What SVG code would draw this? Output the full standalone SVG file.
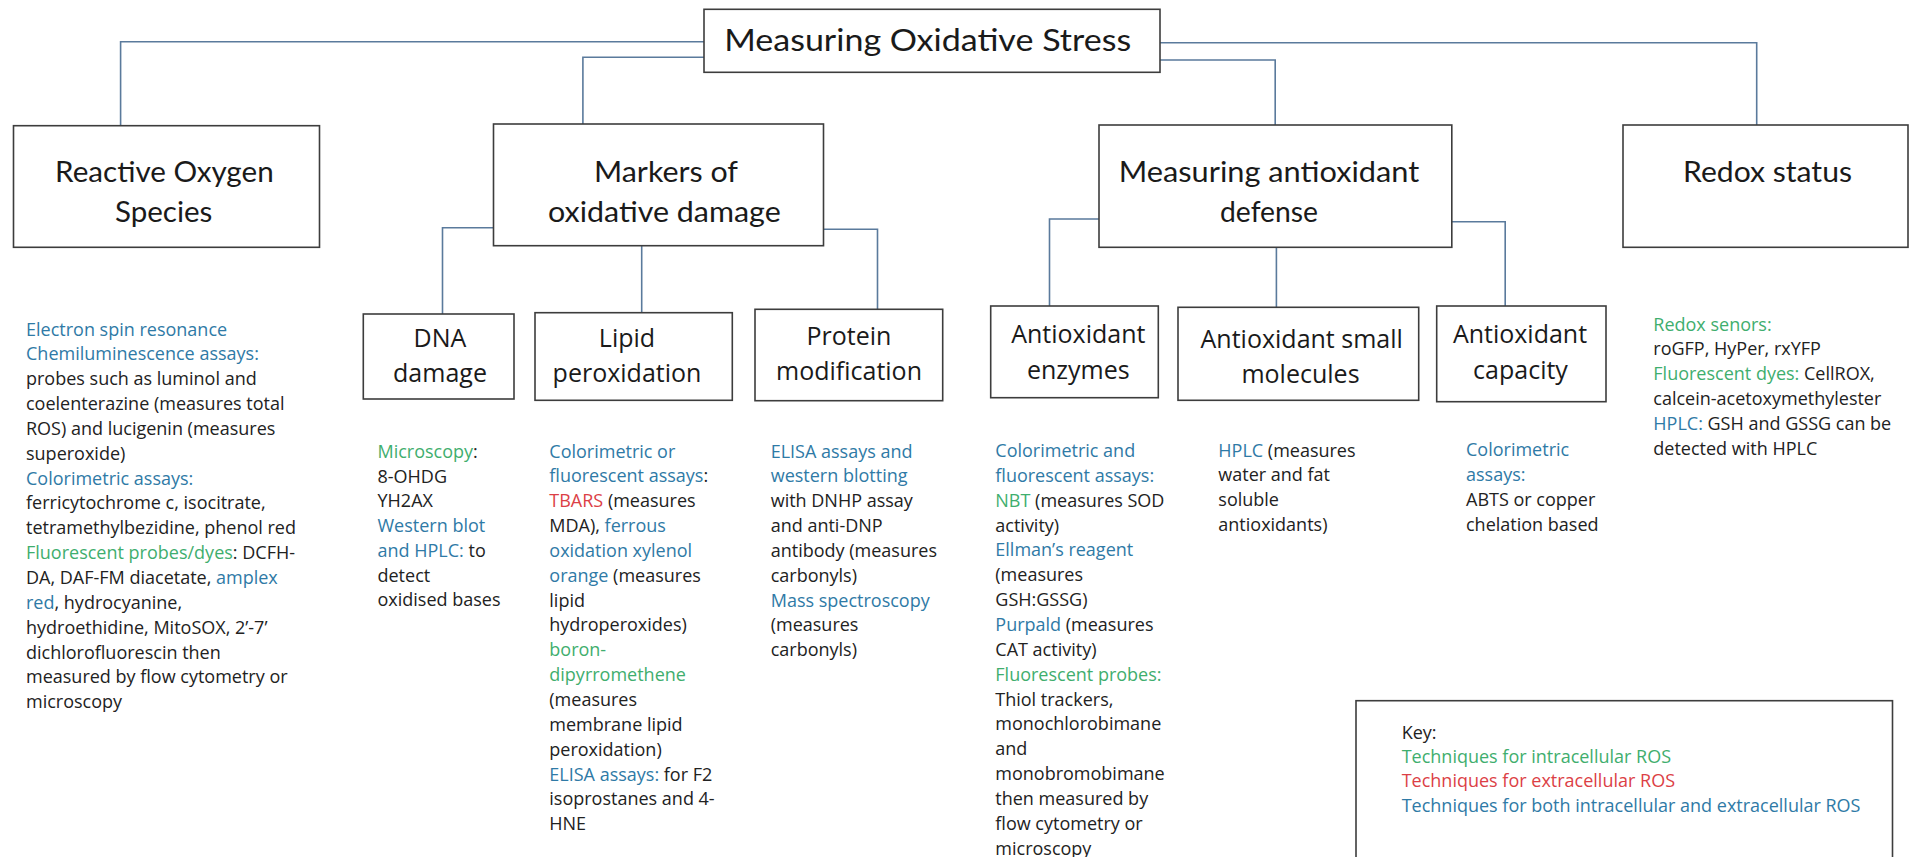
<svg xmlns="http://www.w3.org/2000/svg" width="1912" height="857" viewBox="0 0 1912 857">
<style>
.box{fill:#fff;stroke:#3d3d3d;stroke-width:1.6}
.conn{fill:none;stroke:#5a7a9c;stroke-width:1.6}
.h1{font-family:Lato,"Open Sans",sans-serif;font-size:30px;fill:#1a1a1a;text-anchor:middle}
.h2{font-family:Lato,"Open Sans",sans-serif;font-size:28px;fill:#1a1a1a;text-anchor:middle}
.h3{font-family:"Open Sans",sans-serif;font-size:25px;fill:#1a1a1a;text-anchor:middle}
.t{font-family:"Open Sans",sans-serif;font-size:18px;fill:#222}
.b{fill:#2f7aa6}
.g{fill:#3fae6e}
.r{fill:#dc3f46}
</style>
<rect width="1912" height="857" fill="#fff"/>
<g id="connectors">
<path class="conn" d="M704,41.7 H120.6 V125.7"/>
<path class="conn" d="M704,57.3 H582.9 V124"/>
<path class="conn" d="M1160,42.7 H1756.7 V125"/>
<path class="conn" d="M1160,60 H1275.2 V125"/>
<path class="conn" d="M493.5,227.7 H442.5 V314"/>
<path class="conn" d="M641.7,245.7 V312.7"/>
<path class="conn" d="M823.5,229.3 H877.5 V309.3"/>
<path class="conn" d="M1099,219 H1049.5 V306"/>
<path class="conn" d="M1276.4,247.3 V307.3"/>
<path class="conn" d="M1451.8,221.7 H1505.2 V306"/>
</g>
<g id="root">
<rect class="box" x="704" y="9.3" width="456" height="63"/>
<text class="h1" x="927.7" y="51" textLength="407" lengthAdjust="spacingAndGlyphs">Measuring Oxidative Stress</text>
</g>
<g id="ros">
<rect class="box" x="13.5" y="125.7" width="306" height="121.6"/>
<text class="h2" x="164.4" y="181.7" textLength="218.6" lengthAdjust="spacingAndGlyphs">Reactive Oxygen</text>
<text class="h2" x="163.7" y="221.7" textLength="97.4" lengthAdjust="spacingAndGlyphs">Species</text>
</g>
<g id="markers">
<rect class="box" x="493.5" y="124" width="330" height="121.7"/>
<text class="h2" x="666" y="181.7" textLength="144" lengthAdjust="spacingAndGlyphs">Markers of</text>
<text class="h2" x="664.4" y="221.7" textLength="232.7" lengthAdjust="spacingAndGlyphs">oxidative damage</text>
</g>
<g id="defense">
<rect class="box" x="1099" y="125" width="352.8" height="122.3"/>
<text class="h2" x="1269" y="181.7" textLength="300.6" lengthAdjust="spacingAndGlyphs">Measuring antioxidant</text>
<text class="h2" x="1269" y="221.7" textLength="98" lengthAdjust="spacingAndGlyphs">defense</text>
</g>
<g id="redox">
<rect class="box" x="1623" y="125" width="285" height="122.3"/>
<text class="h2" x="1767.5" y="182" textLength="169" lengthAdjust="spacingAndGlyphs">Redox status</text>
</g>
<g id="dna">
<rect class="box" x="363.3" y="314" width="150.7" height="85"/>
<text class="h3" x="440" y="346.7">DNA</text>
<text class="h3" x="440" y="381.7">damage</text>
</g>
<g id="lipid">
<rect class="box" x="535" y="312.7" width="197.3" height="87.6"/>
<text class="h3" x="627" y="346.7">Lipid</text>
<text class="h3" x="627" y="381.7">peroxidation</text>
</g>
<g id="protein">
<rect class="box" x="755" y="309.3" width="187.7" height="91.4"/>
<text class="h3" x="849" y="345">Protein</text>
<text class="h3" x="849" y="380">modification</text>
</g>
<g id="enzymes">
<rect class="box" x="990.7" y="306" width="167.6" height="91.7"/>
<text class="h3" x="1078.3" y="343.3">Antioxidant</text>
<text class="h3" x="1078.3" y="379.3">enzymes</text>
</g>
<g id="small">
<rect class="box" x="1178" y="307.3" width="240.7" height="93"/>
<text class="h3" x="1301.7" y="347.7">Antioxidant small</text>
<text class="h3" x="1300.5" y="382.7">molecules</text>
</g>
<g id="capacity">
<rect class="box" x="1436.7" y="306" width="169.3" height="95.7"/>
<text class="h3" x="1520" y="343.3">Antioxidant</text>
<text class="h3" x="1520.5" y="379">capacity</text>
</g>
<g id="ros-text">
<text class="t" x="26" y="335.5">
<tspan class="b" x="26" y="335.5">Electron spin resonance</tspan>
<tspan class="b" x="26" dy="24.85">Chemiluminescence assays:</tspan>
<tspan x="26" dy="24.85">probes such as luminol and</tspan>
<tspan x="26" dy="24.85">coelenterazine (measures total</tspan>
<tspan x="26" dy="24.85">ROS) and lucigenin (measures</tspan>
<tspan x="26" dy="24.85">superoxide)</tspan>
<tspan class="b" x="26" dy="24.85">Colorimetric assays:</tspan>
<tspan x="26" dy="24.85">ferricytochrome c, isocitrate,</tspan>
<tspan x="26" dy="24.85">tetramethylbezidine, phenol red</tspan>
<tspan x="26" dy="24.85"><tspan class="g">Fluorescent probes/dyes</tspan>: DCFH-</tspan>
<tspan x="26" dy="24.85">DA, DAF-FM diacetate, <tspan class="b">amplex</tspan></tspan>
<tspan x="26" dy="24.85"><tspan class="b">red</tspan>, hydrocyanine,</tspan>
<tspan x="26" dy="24.85">hydroethidine, MitoSOX, 2’-7’</tspan>
<tspan x="26" dy="24.85">dichlorofluorescin then</tspan>
<tspan x="26" dy="24.85">measured by flow cytometry or</tspan>
<tspan x="26" dy="24.85">microscopy</tspan>
</text>
</g>
<g id="dna-text">
<text class="t" x="377.5" y="458">
<tspan x="377.5" y="458"><tspan class="g">Microscopy</tspan>:</tspan>
<tspan x="377.5" dy="24.7">8-OHDG</tspan>
<tspan x="377.5" dy="24.7">YH2AX</tspan>
<tspan class="b" x="377.5" dy="24.7">Western blot</tspan>
<tspan x="377.5" dy="24.7"><tspan class="b">and HPLC:</tspan>  to</tspan>
<tspan x="377.5" dy="24.7">detect</tspan>
<tspan x="377.5" dy="24.7">oxidised bases</tspan>
</text>
</g>
<g id="lipid-text">
<text class="t" x="549.3" y="457.5">
<tspan class="b" x="549.3" y="457.5">Colorimetric or</tspan>
<tspan x="549.3" dy="24.85"><tspan class="b">fluorescent assays</tspan>:</tspan>
<tspan x="549.3" dy="24.85"><tspan class="r">TBARS</tspan> (measures</tspan>
<tspan x="549.3" dy="24.85">MDA), <tspan class="b">ferrous</tspan></tspan>
<tspan class="b" x="549.3" dy="24.85">oxidation xylenol</tspan>
<tspan x="549.3" dy="24.85"><tspan class="b">orange</tspan> (measures</tspan>
<tspan x="549.3" dy="24.85">lipid</tspan>
<tspan x="549.3" dy="24.85">hydroperoxides)</tspan>
<tspan class="g" x="549.3" dy="24.85">boron-</tspan>
<tspan class="g" x="549.3" dy="24.85">dipyrromethene</tspan>
<tspan x="549.3" dy="24.85">(measures</tspan>
<tspan x="549.3" dy="24.85">membrane lipid</tspan>
<tspan x="549.3" dy="24.85">peroxidation)</tspan>
<tspan x="549.3" dy="24.85"><tspan class="b">ELISA assays:</tspan> for F2</tspan>
<tspan x="549.3" dy="24.85">isoprostanes and 4-</tspan>
<tspan x="549.3" dy="24.85">HNE</tspan>
</text>
</g>
<g id="protein-text">
<text class="t" x="770.7" y="457.5">
<tspan class="b" x="770.7" y="457.5">ELISA assays and</tspan>
<tspan class="b" x="770.7" dy="24.85">western blotting</tspan>
<tspan x="770.7" dy="24.85">with DNHP assay</tspan>
<tspan x="770.7" dy="24.85">and anti-DNP</tspan>
<tspan x="770.7" dy="24.85">antibody (measures</tspan>
<tspan x="770.7" dy="24.85">carbonyls)</tspan>
<tspan class="b" x="770.7" dy="24.85">Mass spectroscopy</tspan>
<tspan x="770.7" dy="24.85">(measures</tspan>
<tspan x="770.7" dy="24.85">carbonyls)</tspan>
</text>
</g>
<g id="enzymes-text">
<text class="t" x="995.3" y="457">
<tspan class="b" x="995.3" y="457">Colorimetric and</tspan>
<tspan class="b" x="995.3" dy="24.85">fluorescent assays:</tspan>
<tspan x="995.3" dy="24.85"><tspan class="g">NBT</tspan> (measures SOD</tspan>
<tspan x="995.3" dy="24.85">activity)</tspan>
<tspan class="b" x="995.3" dy="24.85">Ellman’s reagent</tspan>
<tspan x="995.3" dy="24.85">(measures</tspan>
<tspan x="995.3" dy="24.85">GSH:GSSG)</tspan>
<tspan x="995.3" dy="24.85"><tspan class="b">Purpald</tspan> (measures</tspan>
<tspan x="995.3" dy="24.85">CAT activity)</tspan>
<tspan class="g" x="995.3" dy="24.85">Fluorescent probes:</tspan>
<tspan x="995.3" dy="24.85">Thiol trackers,</tspan>
<tspan x="995.3" dy="24.85">monochlorobimane</tspan>
<tspan x="995.3" dy="24.85">and</tspan>
<tspan x="995.3" dy="24.85">monobromobimane</tspan>
<tspan x="995.3" dy="24.85">then measured by</tspan>
<tspan x="995.3" dy="24.85">flow cytometry or</tspan>
<tspan x="995.3" dy="24.85">microscopy</tspan>
</text>
</g>
<g id="small-text">
<text class="t" x="1218.3" y="456.5">
<tspan x="1218.3" y="456.5"><tspan class="b">HPLC</tspan> (measures</tspan>
<tspan x="1218.3" dy="24.85">water and fat</tspan>
<tspan x="1218.3" dy="24.85">soluble</tspan>
<tspan x="1218.3" dy="24.85">antioxidants)</tspan>
</text>
</g>
<g id="capacity-text">
<text class="t" x="1466" y="456">
<tspan class="b" x="1466" y="456">Colorimetric</tspan>
<tspan class="b" x="1466" dy="24.85">assays:</tspan>
<tspan x="1466" dy="24.85">ABTS or copper</tspan>
<tspan x="1466" dy="24.85">chelation based</tspan>
</text>
</g>
<g id="redox-text">
<text class="t" x="1653.3" y="330.5">
<tspan class="g" x="1653.3" y="330.5">Redox senors:</tspan>
<tspan x="1653.3" dy="24.85">roGFP, HyPer, rxYFP</tspan>
<tspan x="1653.3" dy="24.85"><tspan class="g">Fluorescent dyes:</tspan> CellROX,</tspan>
<tspan x="1653.3" dy="24.85">calcein-acetoxymethylester</tspan>
<tspan x="1653.3" dy="24.85"><tspan class="b">HPLC:</tspan> GSH and GSSG can be</tspan>
<tspan x="1653.3" dy="24.85">detected with HPLC</tspan>
</text>
</g>
<g id="key">
<rect class="box" x="1356" y="700.7" width="536.5" height="170"/>
<text class="t" x="1401.7" y="738.8">
<tspan x="1401.7" y="738.8">Key:</tspan>
<tspan class="g" x="1401.7" dy="24.3">Techniques for intracellular ROS</tspan>
<tspan class="r" x="1401.7" dy="24.3">Techniques for extracellular ROS</tspan>
<tspan class="b" x="1401.7" dy="24.3">Techniques for both intracellular and extracellular ROS</tspan>
</text>
</g>
</svg>
